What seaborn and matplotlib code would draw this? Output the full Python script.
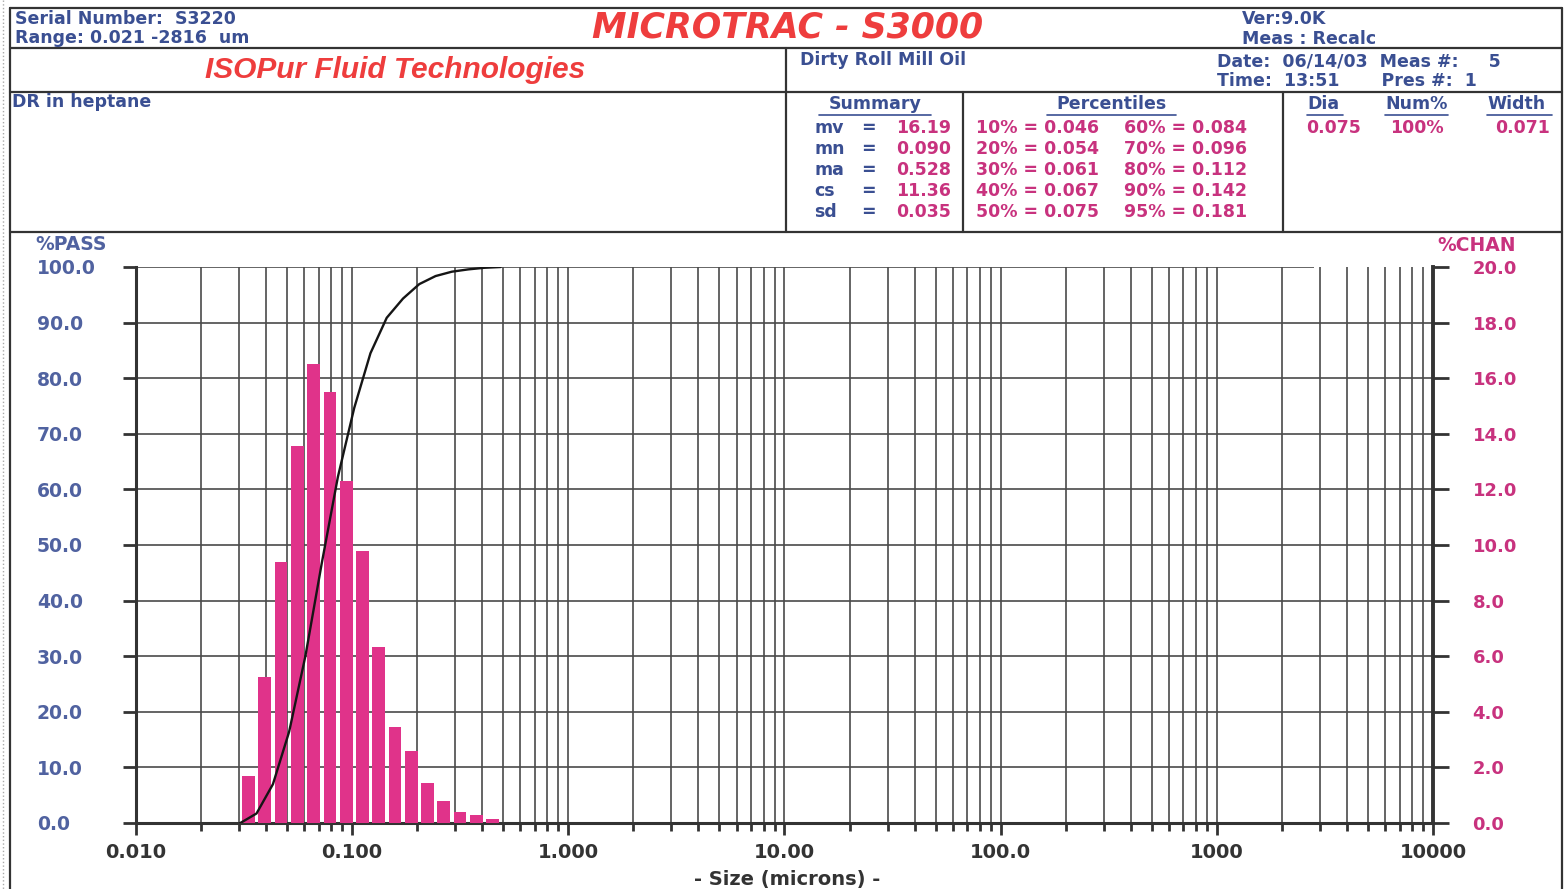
import matplotlib
matplotlib.use("Agg")
import matplotlib.pyplot as plt
from matplotlib.lines import Line2D
from matplotlib.ticker import FixedLocator, FixedFormatter, LogLocator, NullFormatter
import numpy as np
import seaborn as sns

# ---- data ----
# Microtrac channel edges (microns), one more than the number of channels
channel_edges = [0.0304, 0.0361, 0.0430, 0.0511, 0.0608, 0.0723, 0.0859, 0.1022,
                 0.1215, 0.1445, 0.1719, 0.2044, 0.2431, 0.2891, 0.3438, 0.4088, 0.4861]
# %CHAN per channel
chan_pct = [1.70, 5.24, 9.38, 13.57, 16.51, 15.49, 12.31, 9.79,
            6.34, 3.44, 2.58, 1.44, 0.78, 0.41, 0.29, 0.14]

x_ticks = [0.01, 0.1, 1, 10, 100, 1000, 10000]
x_tick_labels = ["0.010", "0.100", "1.000", "10.00", "100.0", "1000", "10000"]
pass_ticks = list(range(0, 101, 10))
chan_ticks = list(range(0, 21, 2))
range_max = 2816

summary_names = ["mv", "mn", "ma", "cs", "sd"]
summary_values = ["16.19", "0.090", "0.528", "11.36", "0.035"]
pct_left = ["10% = 0.046", "20% = 0.054", "30% = 0.061", "40% = 0.067", "50% = 0.075"]
pct_right = ["60% = 0.084", "70% = 0.096", "80% = 0.112", "90% = 0.142", "95% = 0.181"]
dia_head = ["Dia", "Num%", "Width"]
dia_vals = ["0.075", "100%", "0.071"]

# ---- style ----
W, H = 1565, 889
blue = "#3a4f92"
tick_blue = "#5062a0"
magenta = "#c8327e"
bar_c = "#e0338a"
red = "#ee3d3d"
grid_c = "#4a4a4a"
line_c = "#333333"

sns.set_theme(style="white")
plt.rcParams["font.family"] = ["DejaVu Sans"]
plt.rcParams["font.weight"] = "bold"

fig = plt.figure(figsize=(W / 100, H / 100), dpi=100, facecolor="white")


def put(x, y, s, **kw):
    kw.setdefault("va", "center")
    kw.setdefault("color", blue)
    kw.setdefault("fontsize", 12)
    kw.setdefault("fontweight", "bold")
    fig.text(x / W, 1 - y / H, s, **kw)


def rule(x0, y0, x1, y1, **kw):
    kw.setdefault("color", line_c)
    kw.setdefault("lw", 1.6)
    fig.add_artist(Line2D([x0 / W, x1 / W], [1 - y0 / H, 1 - y1 / H],
                          transform=fig.transFigure, **kw))


# ---- header form ----
for y in [8, 48, 92, 232]:
    rule(10, y, 1562, y)
rule(10, 8, 10, 889)
rule(1562, 8, 1562, 889)
rule(786, 48, 786, 232)
rule(963, 92, 963, 232)
rule(1283, 92, 1283, 232)
rule(3, 0, 3, 889, color="#aaaaaa", lw=1, ls=":")

put(15, 19, "Serial Number:  S3220", fontsize=12.5)
put(15, 38, "Range: 0.021 -2816  um", fontsize=12.5)
put(788, 28, "MICROTRAC - S3000", ha="center", color=red, fontsize=25, style="italic")
put(1242, 19, "Ver:9.0K", fontsize=12.5)
put(1242, 39, "Meas : Recalc", fontsize=12.5)

put(395, 70, "ISOPur Fluid Technologies", ha="center", color=red, fontsize=21.5,
    style="italic", family="Liberation Sans")
put(800, 60, "Dirty Roll Mill Oil", fontsize=12.5)
put(1217, 61, "Date:  06/14/03  Meas #:     5", fontsize=12.5)
put(1217, 81, "Time:  13:51       Pres #:  1", fontsize=12.5)

put(12, 102, "DR in heptane", fontsize=12.5)

put(875, 104, "Summary", ha="center", fontsize=12.5)
rule(819, 115, 931, 115, color=blue, lw=1.2)
put(1111, 104, "Percentiles", ha="center", fontsize=12.5)
rule(1047, 115, 1176, 115, color=blue, lw=1.2)
for x, s in zip([1307, 1385, 1487], dia_head):
    put(x, 104, s, fontsize=12.5)
rule(1307, 115, 1343, 115, color=blue, lw=1.2)
rule(1385, 115, 1448, 115, color=blue, lw=1.2)
rule(1487, 115, 1552, 115, color=blue, lw=1.2)

for i, (nm, val) in enumerate(zip(summary_names, summary_values)):
    y = 128 + 21 * i
    put(814, y, nm, fontsize=12.5)
    put(868, y, "=", ha="center", fontsize=12.5)
    put(951, y, val, ha="right", color=magenta, fontsize=12.5)
for i, (a, b) in enumerate(zip(pct_left, pct_right)):
    y = 128 + 21 * i
    put(976, y, a, color=magenta, fontsize=12.5)
    put(1124, y, b, color=magenta, fontsize=12.5)
for x, s in zip([1306, 1390, 1495], dia_vals):
    put(x, 128, s, color=magenta, fontsize=12.5)

# ---- chart ----
ax = fig.add_axes([136 / W, 1 - 823 / H, (1433 - 136) / W, (823 - 267) / H])
ax.set_facecolor("white")
ax.set_xscale("log")

# bars (%CHAN, right axis)
ax2 = ax.twinx()
edges = np.array(channel_edges)
centers = np.sqrt(edges[:-1] * edges[1:])
sns.histplot(x=centers, weights=chan_pct, bins=list(np.log10(edges)), log_scale=True,
             shrink=0.78, color=bar_c, alpha=1, edgecolor="none", linewidth=0, ax=ax2)

# cumulative curve (%PASS)
ax3 = ax.twinx()
cum = np.concatenate([[0], np.cumsum(chan_pct)])
cum = cum / cum[-1] * 100
sns.lineplot(x=channel_edges, y=cum, color="#151515", lw=1.7, ax=ax3)
ax3.set_ylim(0, 100)
ax3.set_axis_off()

# left / bottom axis
ax.set_xlim(x_ticks[0], x_ticks[-1])
ax.set_ylim(0, 100)
ax.xaxis.set_major_locator(FixedLocator(x_ticks))
ax.xaxis.set_major_formatter(FixedFormatter(x_tick_labels))
ax.xaxis.set_minor_locator(LogLocator(base=10, subs=np.arange(2, 10), numticks=100))
ax.xaxis.set_minor_formatter(NullFormatter())
ax.yaxis.set_major_locator(FixedLocator(pass_ticks))
ax.yaxis.set_major_formatter(FixedFormatter([f"{v:.1f}" for v in pass_ticks]))
ax.grid(which="both", axis="x", color=grid_c, lw=1.2)
# horizontal rules; the top one stops at the end of the instrument range
ax.hlines(pass_ticks[1:-1], x_ticks[0], x_ticks[-1], color=grid_c, lw=1.2)
ax.hlines(pass_ticks[-1], x_ticks[0], range_max, color=grid_c, lw=1.2)
ax.tick_params(axis="y", which="major", direction="out", left=True, length=9.5, width=2,
               color=line_c, pad=62, labelsize=13.5, labelcolor=tick_blue)
ax.tick_params(axis="x", which="major", direction="out", bottom=True, length=8.5, width=2,
               color=line_c, pad=6, labelsize=14, labelcolor="#333333")
ax.tick_params(axis="x", which="minor", direction="out", bottom=True, length=5.5, width=2,
               color=line_c)
for t in ax.get_yticklabels():
    t.set_ha("left")
for s in ["top", "right"]:
    ax.spines[s].set_visible(False)
for s in ["left", "bottom"]:
    ax.spines[s].set_color(line_c)
    ax.spines[s].set_linewidth(2.2)
ax.set_xlabel("")
ax.set_ylabel("")

# right axis
ax2.set_ylim(0, 20)
ax2.yaxis.set_major_locator(FixedLocator(chan_ticks))
ax2.yaxis.set_major_formatter(FixedFormatter([f"{v:.1f}" for v in chan_ticks]))
ax2.tick_params(axis="y", which="major", direction="out", right=True, length=11.5, width=2,
                color=line_c, pad=17, labelsize=13, labelcolor=magenta)
for s in ["top", "left", "bottom"]:
    ax2.spines[s].set_visible(False)
ax2.spines["right"].set_color(line_c)
ax2.spines["right"].set_linewidth(2.8)
ax2.set_ylabel("")
ax2.set_xlim(x_ticks[0], x_ticks[-1])

put(35, 245, "%PASS", color=tick_blue, fontsize=13.5)
put(1437, 246, "%CHAN", color=magenta, fontsize=13.5)
put(787, 879, "- Size (microns) -", ha="center", color="#333333", fontsize=14)

fig.savefig("out.png", dpi=100, facecolor="white")
